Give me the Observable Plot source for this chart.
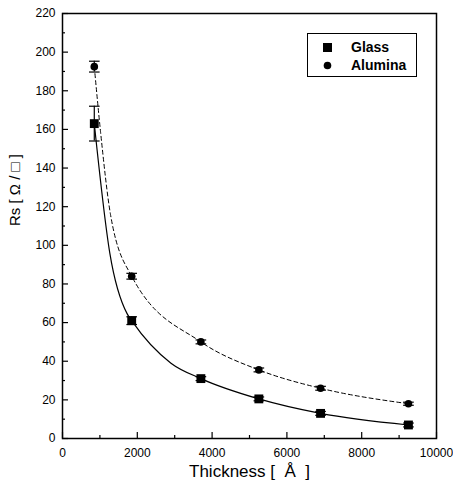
<!DOCTYPE html>
<html>
<head>
<meta charset="utf-8">
<script src="https://cdn.jsdelivr.net/npm/d3@7"></script>
<script src="https://cdn.jsdelivr.net/npm/@observablehq/plot@0.6"></script>
<style>
  html, body { margin: 0; padding: 0; background: #fff; }
  #wrap { position: relative; width: 453px; height: 489px; }
  #legend { position: absolute; left: 307px; top: 33px; width: 108px; height: 42px;
    border: 1.5px solid #000; background: #fff; font-family: "Liberation Sans", Arial, sans-serif;
    font-weight: bold; font-size: 14px; }
  #legend .row { position: absolute; left: 0; height: 16px; display: flex; align-items: center; }
  #legend svg { margin-left: 15px; margin-right: 19px; }
</style>
</head>
<body>
<div id="wrap"></div>
<script>
// Data
const thickness = [850, 1850, 3700, 5250, 6900, 9250];
const glassRs = [163, 61, 31, 20.5, 13, 7];
const glassErr = [9, 2, 1, 1, 1, 1];
const aluminaRs = [192.5, 84, 50, 35.5, 26, 18];
const aluminaErr = [2.8, 1.5, 1, 1, 1, 0.8];

// Fitted curves as drawn in the reference
const glassFitX = [850, 1265, 1730, 1850, 2900, 3700, 5250, 6900, 9250];
const glassFitY = [163, 96, 64.5, 61, 39, 31, 20.5, 13, 7];
const aluminaFitX = [850, 1016, 1283, 1850, 3700, 5250, 6900, 9250];
const aluminaFitY = [192.5, 159, 116, 84, 50, 35.5, 26, 18];

const xMajor = [0, 2000, 4000, 6000, 8000, 10000];
const xMinor = [1000, 3000, 5000, 7000, 9000];
const yMajor = [0, 20, 40, 60, 80, 100, 120, 140, 160, 180, 200, 220];
const yMinor = [10, 30, 50, 70, 90, 110, 130, 150, 170, 190, 210];

const xTitle = "Thickness [\u00a0 Å \u00a0]";
const yTitle = "Rs [ Ω / □ ]";

const glass = thickness.map((t, i) => ({x: t, y: glassRs[i], e: glassErr[i]}));
const alumina = thickness.map((t, i) => ({x: t, y: aluminaRs[i], e: aluminaErr[i]}));
const glassFit = glassFitX.map((x, i) => ({x, y: glassFitY[i]}));
const aluminaFit = aluminaFitX.map((x, i) => ({x, y: aluminaFitY[i]}));

const capSymbol = { draw(ctx, size) { const w = Math.sqrt(size) / 2; ctx.moveTo(-w, 0); ctx.lineTo(w, 0); } };

const font = '"Liberation Sans", Arial, sans-serif';

const chart = Plot.plot({
  width: 453,
  height: 489,
  marginLeft: 62,
  marginRight: 17,
  marginTop: 13,
  marginBottom: 51,
  style: { fontFamily: font, fontSize: "12px", color: "#000", background: "#fff" },
  x: { domain: [0, 10000] },
  y: { domain: [0, 220] },
  marks: [
    // tick labels
    Plot.axisX({ ticks: xMajor, tickSize: 0, tickPadding: 10, tickFormat: d => String(d), fontSize: 12, label: null }),
    Plot.axisY({ ticks: yMajor, tickSize: 0, tickPadding: 7, tickFormat: d => String(d), fontSize: 12, label: null }),
    // axis titles
    Plot.text([xTitle], { text: d => d, frameAnchor: "bottom", dy: 38, fontSize: 17, fill: "#000" }),
    Plot.text([yTitle], { text: d => d, frameAnchor: "left", dx: -47, rotate: -90, fontSize: 15, fill: "#000" }),
    // inward ticks
    Plot.axisX({ ticks: xMajor, tickSize: -6, tickFormat: () => "", label: null, strokeWidth: 1.2 }),
    Plot.axisX({ ticks: xMinor, tickSize: -3, tickFormat: () => "", label: null, strokeWidth: 1.2 }),
    Plot.axisY({ ticks: yMajor, tickSize: -6, tickFormat: () => "", label: null, strokeWidth: 1.2 }),
    Plot.axisY({ ticks: yMinor, tickSize: -3, tickFormat: () => "", label: null, strokeWidth: 1.2 }),
    // fitted curves
    Plot.line(glassFit, { x: "x", y: "y", stroke: "#000", strokeWidth: 1.2, curve: "monotone-x" }),
    Plot.line(aluminaFit, { x: "x", y: "y", stroke: "#000", strokeWidth: 1, strokeDasharray: "4,3", curve: "monotone-x" }),
    // error bars
    Plot.ruleX(glass, { x: "x", y1: d => d.y - d.e, y2: d => d.y + d.e, stroke: "#000", strokeWidth: 1.2 }),
    Plot.ruleX(alumina, { x: "x", y1: d => d.y - d.e, y2: d => d.y + d.e, stroke: "#000", strokeWidth: 1.2 }),
    Plot.dot(glass, { x: "x", y: d => d.y - d.e, symbol: capSymbol, r: 6, stroke: "#000", strokeWidth: 1.2 }),
    Plot.dot(glass, { x: "x", y: d => d.y + d.e, symbol: capSymbol, r: 6, stroke: "#000", strokeWidth: 1.2 }),
    Plot.dot(alumina, { x: "x", y: d => d.y - d.e, symbol: capSymbol, r: 6, stroke: "#000", strokeWidth: 1.2 }),
    Plot.dot(alumina, { x: "x", y: d => d.y + d.e, symbol: capSymbol, r: 6, stroke: "#000", strokeWidth: 1.2 }),
    // markers
    Plot.dot(glass, { x: "x", y: "y", symbol: "square", r: 5, fill: "#000" }),
    Plot.dot(alumina, { x: "x", y: "y", symbol: "circle", r: 3.8, fill: "#000" }),
    Plot.frame({ stroke: "#000", strokeWidth: 1.5 })
  ]
});

const wrap = document.getElementById("wrap");
wrap.appendChild(chart);

const legend = document.createElement("div");
legend.id = "legend";
legend.innerHTML =
  '<div class="row" style="top:5px"><svg width="9" height="9"><rect width="9" height="9" fill="#000"/></svg><span>Glass</span></div>' +
  '<div class="row" style="top:23px"><svg width="9" height="9"><circle cx="4.5" cy="4.5" r="3.8" fill="#000"/></svg><span>Alumina</span></div>';
wrap.appendChild(legend);
</script>
</body>
</html>
